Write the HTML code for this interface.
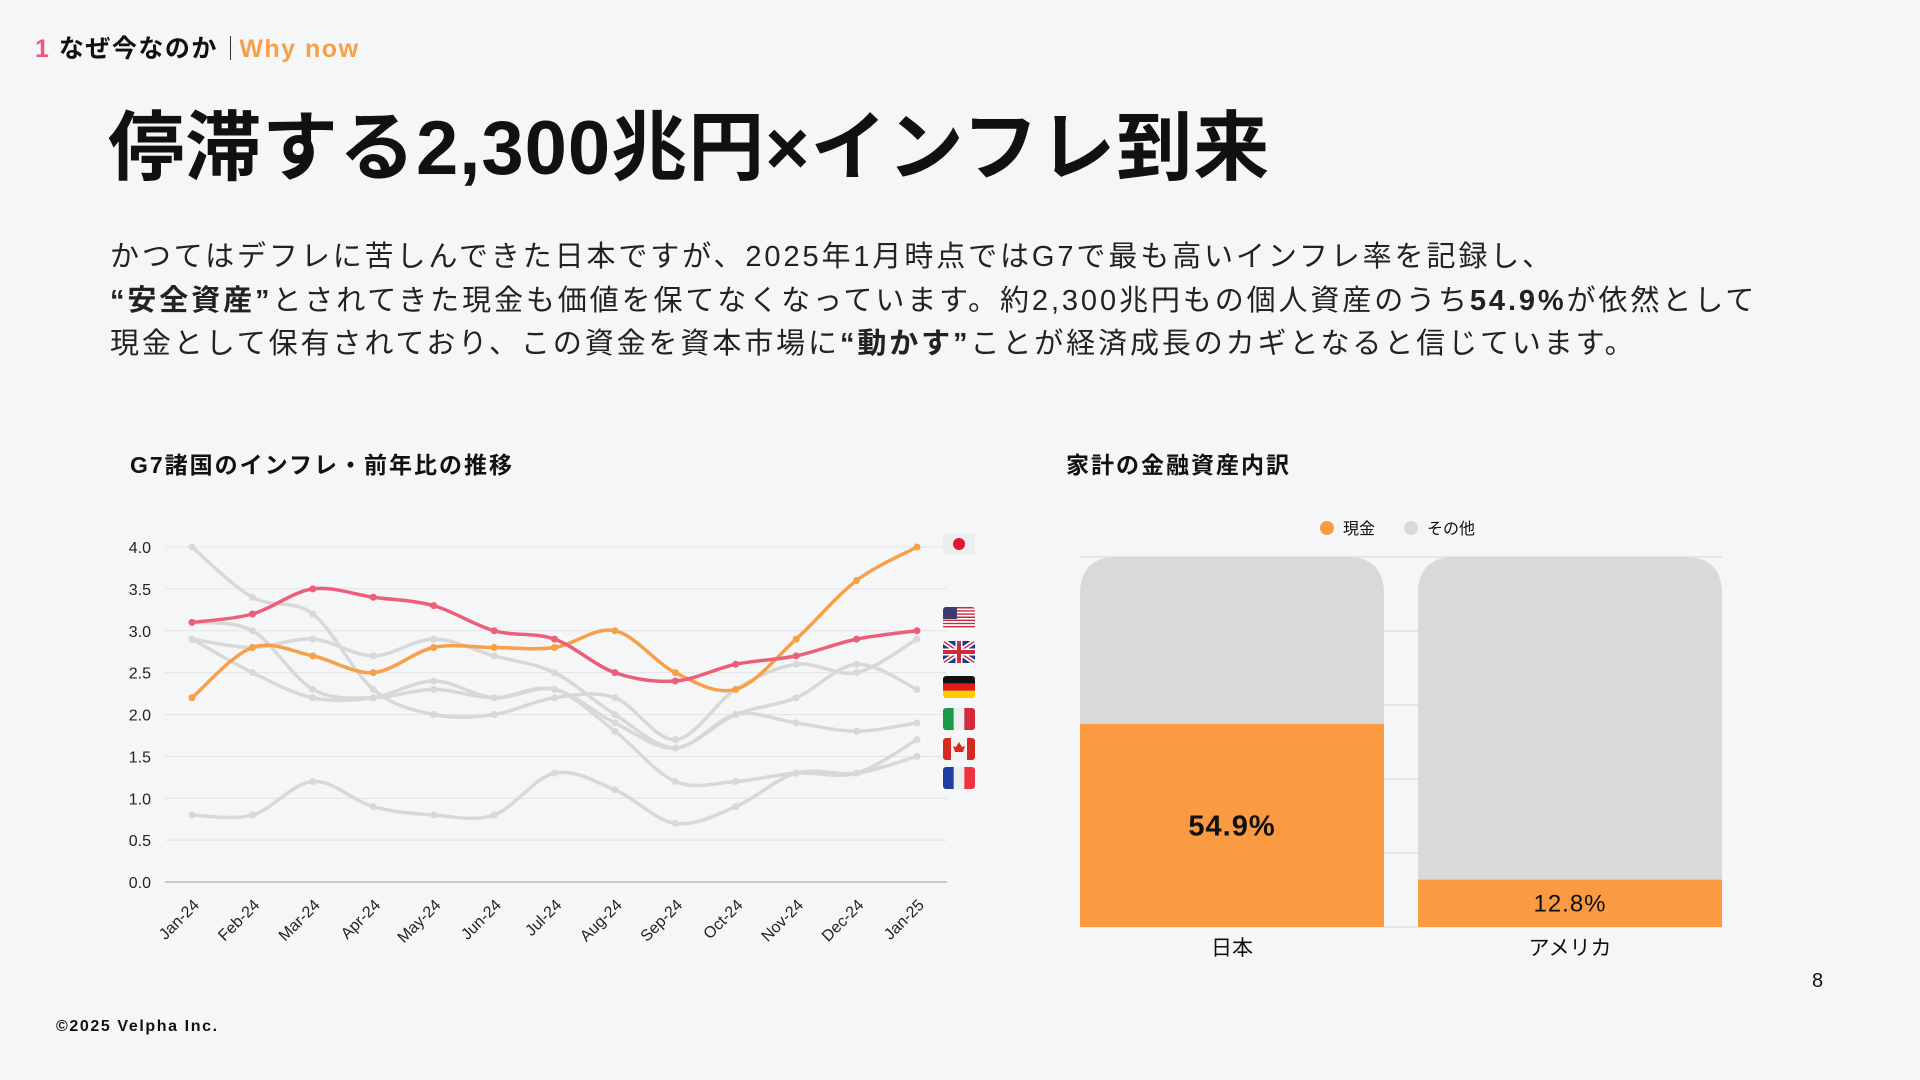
<!DOCTYPE html>
<html><head><meta charset="utf-8"><style>
body{margin:0;width:1920px;height:1080px;background:#f4f6f8;font-family:"Liberation Sans","Noto Sans CJK JP",sans-serif;color:#111;overflow:hidden;position:relative}
.abs{position:absolute;white-space:nowrap}
</style></head><body>
<div class="abs" style="left:35px;top:34px;font-size:25px;font-weight:bold;line-height:30px;letter-spacing:1.5px"><span style="color:#ee5b7a">1</span> なぜ今なのか <span style="display:inline-block;width:1px;height:24px;background:#333;vertical-align:-3px;margin:0 8px 0 4px"></span><span style="color:#f7a047">Why now</span></div>
<div class="abs" style="left:108px;top:104px;font-size:76px;font-weight:bold;line-height:90px;letter-spacing:1px">停滞する2,300兆円×インフレ到来</div>
<div class="abs" style="left:110px;top:236px;font-size:29px;line-height:43.5px;color:#222;letter-spacing:2.9px">かつてはデフレに苦しんできた日本ですが、2025年1月時点ではG7で最も高いインフレ率を記録し、<br><b>“安全資産”</b>とされてきた現金も価値を保てなくなっています。約2,300兆円もの個人資産のうち<b>54.9%</b>が依然として<br>現金として保有されており、この資金を資本市場に<b>“動かす”</b>ことが経済成長のカギとなると信じています。</div>
<div class="abs" style="left:130px;top:446px;font-size:23px;font-weight:bold;letter-spacing:2px">G7諸国のインフレ・前年比の推移</div>
<div class="abs" style="left:1066px;top:446px;font-size:23px;font-weight:bold;letter-spacing:2px">家計の金融資産内訳</div>
<svg id="lc" class="abs" style="left:0;top:0" width="1920" height="1080"></svg>
<div class="abs" style="left:1812px;top:970px;font-size:20px">8</div>
<div class="abs" style="left:56px;top:1018px;font-size:16px;font-weight:bold;letter-spacing:1.6px">©2025 Velpha Inc.</div>
<script>
const months=["Jan-24","Feb-24","Mar-24","Apr-24","May-24","Jun-24","Jul-24","Aug-24","Sep-24","Oct-24","Nov-24","Dec-24","Jan-25"];
const yTicks=[0,0.5,1,1.5,2,2.5,3,3.5,4];
const japan=[2.2,2.8,2.7,2.5,2.8,2.8,2.8,3.0,2.5,2.3,2.9,3.6,4.0];
const usa=[3.1,3.2,3.5,3.4,3.3,3.0,2.9,2.5,2.4,2.6,2.7,2.9,3.0];
const uk=[4.0,3.4,3.2,2.3,2.0,2.0,2.2,2.2,1.7,2.3,2.6,2.5,2.9];
const germany=[2.9,2.5,2.2,2.2,2.4,2.2,2.3,1.9,1.6,2.0,2.2,2.6,2.3];
const canada=[2.9,2.8,2.9,2.7,2.9,2.7,2.5,2.0,1.6,2.0,1.9,1.8,1.9];
const france=[3.1,3.0,2.3,2.2,2.3,2.2,2.3,1.8,1.2,1.2,1.3,1.3,1.7];
const italy=[0.8,0.8,1.2,0.9,0.8,0.8,1.3,1.1,0.7,0.9,1.3,1.3,1.5];
const barCats=["日本","アメリカ"];
const cashShare=[54.9,12.8];
const barTicks=[0,20,40,60,80,100];

const NS="http://www.w3.org/2000/svg";
const svg=document.getElementById('lc');
function mk(t,a,p){const e=document.createElementNS(NS,t);for(const k in a)e.setAttribute(k,a[k]);(p||svg).appendChild(e);return e;}
const X0=192,X1=917,Y0=882,Y1=547;
const x=i=>X0+(X1-X0)*i/(months.length-1);
const y=v=>Y0-(Y0-Y1)*v/4;
yTicks.forEach(t=>{
 const g=mk('line',{x1:165,x2:947,y1:y(t),y2:y(t),stroke:t===0?'#bbb':'#e2e4e7','stroke-width':t===0?1.5:1});
 
 const l=mk('text',{x:151,y:y(t)+6,'text-anchor':'end','font-size':16,fill:'#222'});l.textContent=t.toFixed(1);
 
});
months.forEach((m,i)=>{
 const l=mk('text',{x:x(i)+8,y:906,'text-anchor':'end','font-size':16,fill:'#222',transform:`rotate(-45 ${x(i)+8} 906)`});l.textContent=m;
 
});
function path(d){const p=d.map((v,i)=>[x(i),y(v)]);let s=`M${p[0][0]},${p[0][1]}`;
 for(let i=0;i<p.length-1;i++){const a=p[i-1]||p[i],b=p[i],c=p[i+1],e=p[i+2]||c;
 s+=`C${b[0]+(c[0]-a[0])/6},${b[1]+(c[1]-a[1])/6} ${c[0]-(e[0]-b[0])/6},${c[1]-(e[1]-b[1])/6} ${c[0]},${c[1]}`;}return s;}
function series(d,col,name){
 const p=mk('path',{d:path(d),fill:'none',stroke:col,'stroke-width':3.5,'stroke-linecap':'round'});
 
 d.forEach((v,i)=>{const c=mk('circle',{cx:x(i),cy:y(v),r:3.5,fill:col});
 });
}
[[italy,'italy'],[france,'france'],[canada,'canada'],[germany,'germany'],[uk,'uk']].forEach(s=>series(s[0],'#d8d8d8',s[1]));
series(japan,'#f7a047','japan');
series(usa,'#ec5f7b','usa');
function flag(cy,name,fn){const g=mk('g',{});
 const cp=mk('clipPath',{id:'c'+name},g);mk('rect',{x:943,y:cy-11,width:32,height:22,rx:3},cp);
 const h=mk('g',{'clip-path':`url(#c${name})`},g);fn(h,943,cy-11);}
flag(544,'japan',(g,a,b)=>{mk('rect',{x:a,y:b,width:32,height:22,fill:'#eceeef'},g);mk('circle',{cx:a+16,cy:b+11,r:6,fill:'#e8142c'},g);});
flag(618,'usa',(g,a,b)=>{for(let i=0;i<7;i++)mk('rect',{x:a,y:b+i*22/7,width:32,height:11/7,fill:'#c8283c'},g);for(let i=0;i<7;i++)mk('rect',{x:a,y:b+i*22/7+11/7,width:32,height:11/7,fill:'#fff'},g);mk('rect',{x:a,y:b,width:14,height:12,fill:'#3c3b6e'},g);});
flag(652,'uk',(g,a,b)=>{mk('rect',{x:a,y:b,width:32,height:22,fill:'#1f3a8a'},g);mk('path',{d:`M${a},${b}L${a+32},${b+22}M${a+32},${b}L${a},${b+22}`,stroke:'#fff','stroke-width':5},g);mk('path',{d:`M${a},${b}L${a+32},${b+22}M${a+32},${b}L${a},${b+22}`,stroke:'#d0283c','stroke-width':1.5},g);mk('path',{d:`M${a+16},${b}V${b+22}M${a},${b+11}H${a+32}`,stroke:'#fff','stroke-width':7},g);mk('path',{d:`M${a+16},${b}V${b+22}M${a},${b+11}H${a+32}`,stroke:'#d0283c','stroke-width':4},g);});
flag(687,'germany',(g,a,b)=>{['#111','#dd1e1e','#fc0'].forEach((c,i)=>mk('rect',{x:a,y:b+i*22/3,width:32,height:22/3+0.5,fill:c},g));});
flag(719,'italy',(g,a,b)=>{['#1a9a48','#eceeef','#d32a3a'].forEach((c,i)=>mk('rect',{x:a+i*32/3,y:b,width:32/3+0.5,height:22,fill:c},g));});
flag(749,'canada',(g,a,b)=>{mk('rect',{x:a,y:b,width:32,height:22,fill:'#d52b1e'},g);mk('rect',{x:a+8,y:b,width:16,height:22,fill:'#f2f2f2'},g);mk('path',{d:`M${a+16},${b+4}l3,5l3,-1l-2,6h-8l-2,-6l3,1z`,fill:'#d52b1e'},g);});
flag(778,'france',(g,a,b)=>{['#1b3ea0','#eceeef','#ee3340'].forEach((c,i)=>mk('rect',{x:a+i*32/3,y:b,width:32/3+0.5,height:22,fill:c},g));});

const BB=927,BT=557,bx=[1080,1418],bw=304;
const by=v=>BB-(BB-BT)*v/100;
barTicks.forEach(t=>{const l=mk('line',{x1:1080,x2:1722,y1:by(t),y2:by(t),stroke:'#e0e2e5','stroke-width':1.5});
 });
barCats.forEach((c,i)=>{
 const g=mk('g',{});
 const r=37,X=bx[i];
 mk('path',{d:`M${X},${BB}V${BT+r}Q${X},${BT} ${X+r},${BT}H${X+bw-r}Q${X+bw},${BT} ${X+bw},${BT+r}V${BB}Z`,fill:'#d9d9d9'},g);
 mk('rect',{x:X,y:by(cashShare[i]),width:bw,height:BB-by(cashShare[i]),fill:'#fa9a42'},g);
 const mid=(by(cashShare[i])+BB)/2;
 const t=mk('text',{x:X+bw/2,y:mid+(i?8:10),'text-anchor':'middle','font-size':i?24:29,'font-weight':i?'normal':'bold',fill:'#111','letter-spacing':1},g);t.textContent=cashShare[i].toFixed(1)+'%';
 
 const l=mk('text',{x:X+bw/2,y:955,'text-anchor':'middle','font-size':21,fill:'#111'});l.textContent=c;
 
});
const lg=mk('g',{});
mk('circle',{cx:1327,cy:528,r:7,fill:'#fa9a42'},lg);
let lt=mk('text',{x:1343,y:534,'font-size':16,fill:'#111'},lg);lt.textContent='現金';
mk('circle',{cx:1411,cy:528,r:7,fill:'#d9d9d9'},lg);
lt=mk('text',{x:1427,y:534,'font-size':16,fill:'#111'},lg);lt.textContent='その他';
</script>
</body></html>
